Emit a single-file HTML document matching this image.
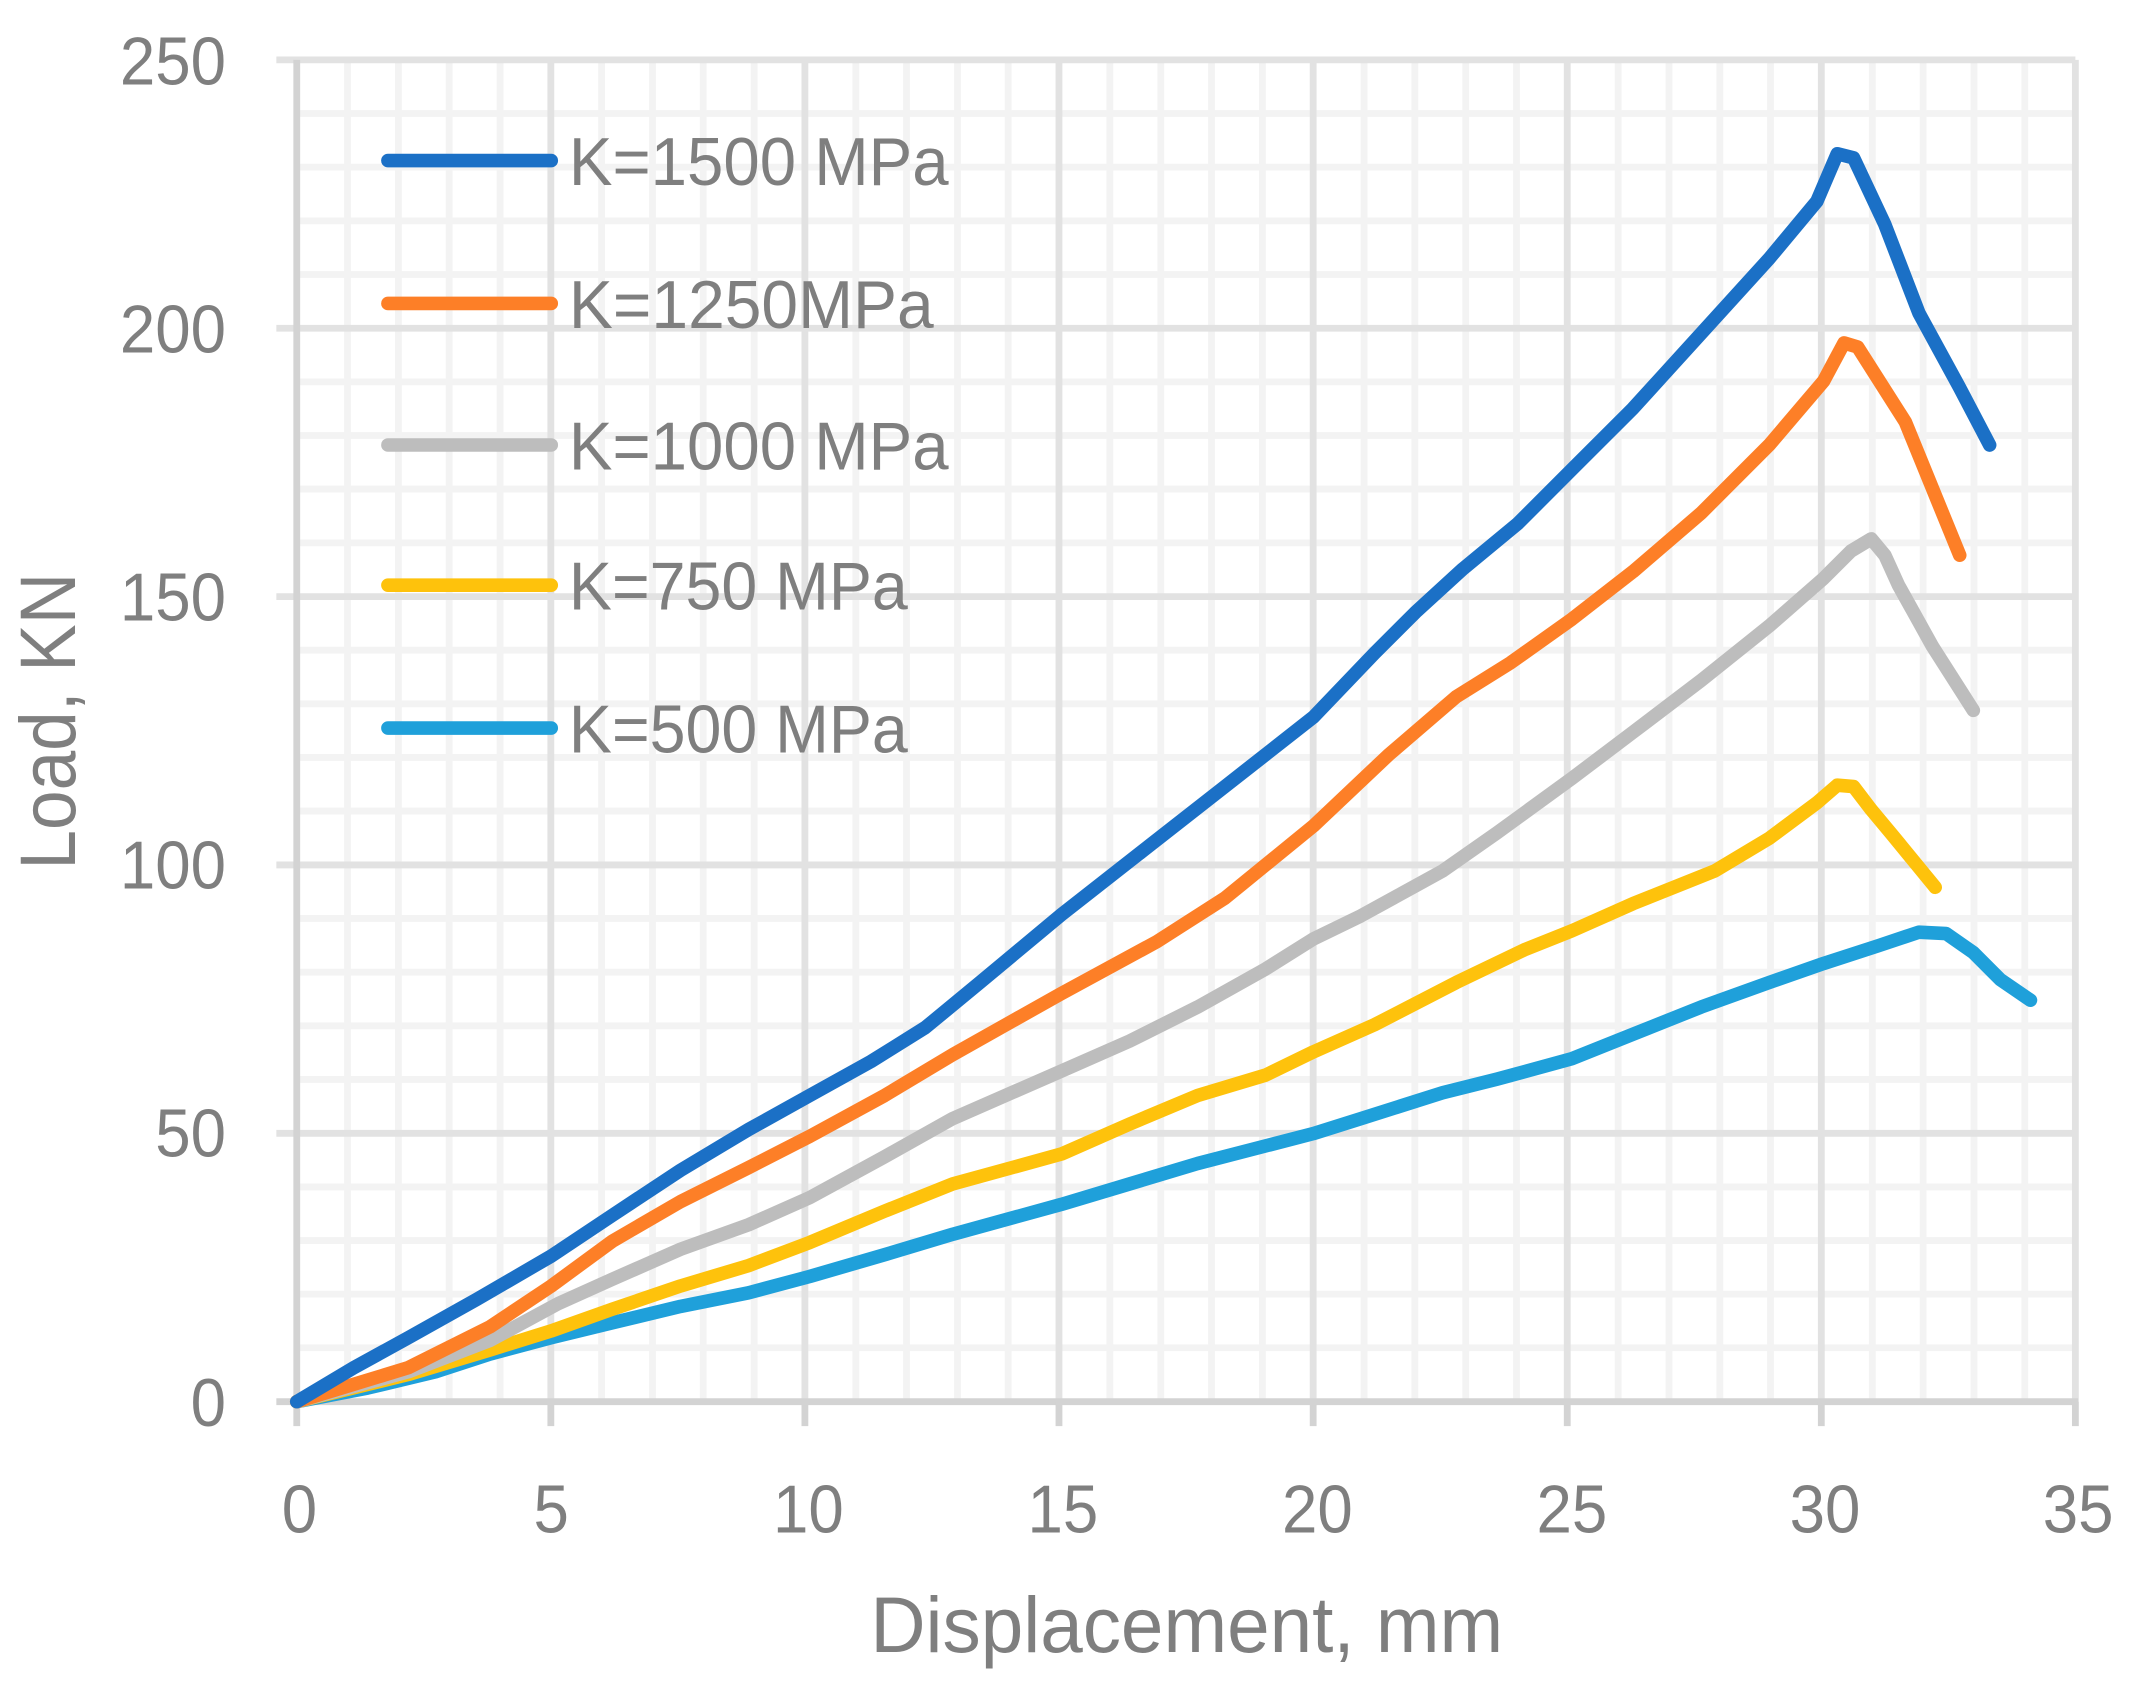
<!DOCTYPE html>
<html><head><meta charset="utf-8"><style>html,body{margin:0;padding:0;background:#fff}svg{display:block}</style></head>
<body>
<svg width="2134" height="1682" viewBox="0 0 1568 1236" xmlns="http://www.w3.org/2000/svg">
<rect width="1568" height="1236" fill="#fff"/>
<g stroke="#f3f3f3" stroke-width="5">
<path d="M255.3 44V1030M292.7 44V1030M330 44V1030M367.4 44V1030M442 44V1030M479.4 44V1030M516.7 44V1030M554.1 44V1030M628.8 44V1030M666.1 44V1030M703.5 44V1030M740.8 44V1030M815.5 44V1030M852.9 44V1030M890.2 44V1030M927.6 44V1030M1002.3 44V1030M1039.6 44V1030M1077 44V1030M1114.3 44V1030M1189 44V1030M1226.4 44V1030M1263.7 44V1030M1301 44V1030M1375.8 44V1030M1413.1 44V1030M1450.5 44V1030M1487.8 44V1030"/>
<path d="M218 83.4H1525M218 122.8H1525M218 162.3H1525M218 201.7H1525M218 280.6H1525M218 320H1525M218 359.4H1525M218 398.9H1525M218 477.8H1525M218 517.2H1525M218 556.6H1525M218 596H1525M218 674.9H1525M218 714.4H1525M218 753.8H1525M218 793.2H1525M218 872.2H1525M218 911.6H1525M218 951H1525M218 990.4H1525"/>
</g>
<g stroke="#e2e2e2" stroke-width="5">
<path d="M404.7 44V1030M591.4 44V1030M778.1 44V1030M964.9 44V1030M1151.6 44V1030M1338.3 44V1030M1525 44V1030"/>
<path d="M203 44H1525M203 241.2H1525M203 438.4H1525M203 635.6H1525M203 832.8H1525"/>
</g>
<g stroke="#d3d3d3" stroke-width="5">
<path d="M218 44V1048M203 1030H1527"/>
<path d="M404.7 1030V1048M591.4 1030V1048M778.1 1030V1048M964.9 1030V1048M1151.6 1030V1048M1338.3 1030V1048M1525 1030V1048"/>
</g>
<g fill="none" stroke-width="10" stroke-linejoin="round" stroke-linecap="round">
<polyline stroke="#1fa0da" points="218,1030 270,1020 320,1008 360,995 405,983 450,972 500,960 550,950 595,938 650,922 700,907 780,885 830,870 880,855 965,833 1000,822 1060,803 1100,793 1155,778 1200,760 1250,740 1300,722 1340,708 1380,695 1410,685 1430,686 1450,700 1470,720 1492,735"/>
<polyline stroke="#fec20c" points="218,1030 300,1010 360,992 405,978 450,962 500,945 550,930 595,913 650,890 700,870 780,848 830,826 880,805 930,790 965,773 1010,753 1070,722 1120,698 1155,684 1200,664 1260,640 1300,616 1335,590 1350,577 1362,578 1375,595 1390,613 1422,652"/>
<polyline stroke="#bdbdbd" points="218,1030 300,1008 360,985 410,958 450,940 500,918 550,900 595,880 650,850 700,822 780,787 830,765 880,740 930,712 965,690 1000,673 1060,640 1100,612 1155,572 1200,538 1250,500 1300,460 1340,425 1360,405 1375,396 1385,408 1395,430 1420,475 1450,522"/>
<polyline stroke="#fd7f27" points="218,1030 300,1005 360,975 405,945 450,912 500,883 550,858 595,835 650,805 700,775 780,730 850,692 900,660 965,607 1020,555 1070,512 1110,487 1155,455 1200,420 1250,377 1300,327 1340,280 1355,252 1365,255 1400,310 1440,408"/>
<polyline stroke="#1b70c6" points="218,1030 260,1005 300,983 350,955 405,923 450,893 500,860 550,830 595,805 640,780 680,755 720,722 780,672 840,625 900,578 965,527 1010,480 1040,450 1075,418 1115,385 1155,345 1200,300 1250,245 1300,190 1335,148 1350,113 1362,116 1385,165 1410,230 1440,285 1462,327"/>
</g>
<g stroke-width="10" stroke-linecap="round">
<path d="M285 118H405" stroke="#1b70c6"/>
<path d="M285 223H405" stroke="#fd7f27"/>
<path d="M285 327H405" stroke="#bdbdbd"/>
<path d="M285 430H405" stroke="#fec20c"/>
<path d="M285 535H405" stroke="#1fa0da"/>
</g>
<g font-family="Liberation Sans, sans-serif" fill="#7f7f7f" font-size="50">
<text x="418" y="136" textLength="279" lengthAdjust="spacingAndGlyphs">K=1500 MPa</text>
<text x="418" y="241" textLength="268" lengthAdjust="spacingAndGlyphs">K=1250MPa</text>
<text x="418" y="345" textLength="279" lengthAdjust="spacingAndGlyphs">K=1000 MPa</text>
<text x="418" y="448" textLength="249" lengthAdjust="spacingAndGlyphs">K=750 MPa</text>
<text x="418" y="553" textLength="249" lengthAdjust="spacingAndGlyphs">K=500 MPa</text>
</g>
<g font-family="Liberation Sans, sans-serif" fill="#7f7f7f" font-size="50" text-anchor="end">
<text x="166" y="62" textLength="78" lengthAdjust="spacingAndGlyphs">250</text>
<text x="166" y="259" textLength="78" lengthAdjust="spacingAndGlyphs">200</text>
<text x="166" y="456" textLength="78" lengthAdjust="spacingAndGlyphs">150</text>
<text x="166" y="653" textLength="78" lengthAdjust="spacingAndGlyphs">100</text>
<text x="166" y="850" textLength="52" lengthAdjust="spacingAndGlyphs">50</text>
<text x="166" y="1048" textLength="26" lengthAdjust="spacingAndGlyphs">0</text>
</g>
<g font-family="Liberation Sans, sans-serif" fill="#7f7f7f" font-size="50" text-anchor="middle">
<text x="220" y="1126" textLength="26" lengthAdjust="spacingAndGlyphs">0</text>
<text x="405" y="1126" textLength="26" lengthAdjust="spacingAndGlyphs">5</text>
<text x="594" y="1126" textLength="52" lengthAdjust="spacingAndGlyphs">10</text>
<text x="781" y="1126" textLength="52" lengthAdjust="spacingAndGlyphs">15</text>
<text x="968" y="1126" textLength="52" lengthAdjust="spacingAndGlyphs">20</text>
<text x="1155" y="1126" textLength="52" lengthAdjust="spacingAndGlyphs">25</text>
<text x="1341" y="1126" textLength="52" lengthAdjust="spacingAndGlyphs">30</text>
<text x="1527" y="1126" textLength="52" lengthAdjust="spacingAndGlyphs">35</text>
<text x="872" y="1214" font-size="58" textLength="465" lengthAdjust="spacingAndGlyphs">Displacement, mm</text>
<text transform="translate(55,530) rotate(-90)" font-size="58" textLength="218" lengthAdjust="spacingAndGlyphs">Load, KN</text>
</g>
</svg>
</body></html>
